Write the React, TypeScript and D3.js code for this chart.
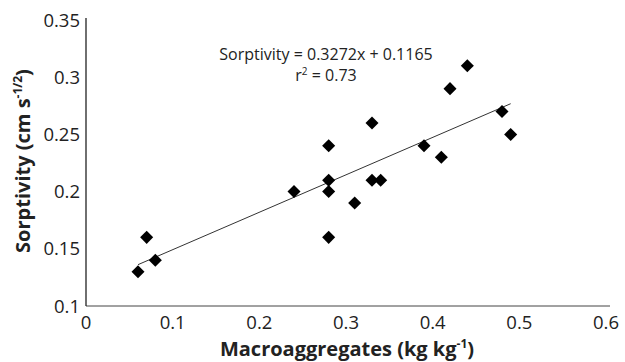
import React, { useRef, useEffect } from 'react';
import * as d3 from 'd3';

// macroaggregates (kg kg-1) and sorptivity (cm s-1/2)
const macroAgg = [0.06, 0.07, 0.08, 0.24, 0.28, 0.28, 0.28, 0.28, 0.31, 0.33, 0.33, 0.34, 0.39, 0.41, 0.42, 0.44, 0.48, 0.49];
const sorptivity = [0.13, 0.16, 0.14, 0.2, 0.24, 0.21, 0.2, 0.16, 0.19, 0.26, 0.21, 0.21, 0.24, 0.23, 0.29, 0.31, 0.27, 0.25];
const xTicks = [0, 0.1, 0.2, 0.3, 0.4, 0.5, 0.6];
const yTicks = [0.1, 0.15, 0.2, 0.25, 0.3, 0.35];
const slope = 0.3272;
const intercept = 0.1165;

const App: React.FC = () => {
  const ref = useRef<SVGSVGElement | null>(null);

  useEffect(() => {
    document.body.style.margin = '0';
    document.body.style.overflow = 'hidden';

    const width = 625;
    const height = 362;
    const svg = d3.select(ref.current);
    svg.selectAll('*').remove();
    svg.attr('width', width).attr('height', height).style('display', 'block').style('background', '#fff');

    const font = '"Open Sans", sans-serif';

    const x = d3.scaleLinear().domain([0, 0.6]).range([86, 606]);
    const y = d3.scaleLinear().domain([0.1, 0.35]).range([306, 20]);

    // axes lines
    svg.append('line')
      .attr('x1', x(0)).attr('x2', 610)
      .attr('y1', y(0.1)).attr('y2', y(0.1))
      .attr('stroke', '#444').attr('stroke-width', 1);
    svg.append('line')
      .attr('x1', x(0)).attr('x2', x(0))
      .attr('y1', y(0.1)).attr('y2', 18)
      .attr('stroke', '#222').attr('stroke-width', 1.3);

    // tick labels
    svg.append('g').selectAll('text')
      .data(xTicks)
      .enter()
      .append('text')
      .attr('x', d => x(d))
      .attr('y', 329)
      .attr('text-anchor', 'middle')
      .style('font-family', font)
      .style('font-size', '18.5px')
      .attr('fill', '#222')
      .text(d => String(d));

    svg.append('g').selectAll('text')
      .data(yTicks)
      .enter()
      .append('text')
      .attr('x', 80)
      .attr('y', d => y(d) + 6.5)
      .attr('text-anchor', 'end')
      .style('font-family', font)
      .style('font-size', '18.5px')
      .attr('fill', '#222')
      .text(d => String(d));

    // trendline
    const xMin = d3.min(macroAgg) as number;
    const xMax = d3.max(macroAgg) as number;
    svg.append('line')
      .attr('x1', x(xMin)).attr('y1', y(slope * xMin + intercept))
      .attr('x2', x(xMax)).attr('y2', y(slope * xMax + intercept))
      .attr('stroke', '#333').attr('stroke-width', 1);

    // points
    const diamond = d3.symbol().type(d3.symbolSquare).size(85);
    svg.append('g').selectAll('path')
      .data(macroAgg.map((m, i) => ({ m, s: sorptivity[i] })))
      .enter()
      .append('path')
      .attr('d', diamond)
      .attr('transform', d => `translate(${x(d.m)},${y(d.s)}) rotate(45)`)
      .attr('fill', '#000');

    // equation
    svg.append('text')
      .attr('x', 326)
      .attr('y', 60)
      .attr('text-anchor', 'middle')
      .style('font-family', font)
      .style('font-size', '16px')
      .attr('fill', '#222')
      .text(`Sorptivity = ${slope}x + ${intercept}`);

    const r2 = svg.append('text')
      .attr('x', 326)
      .attr('y', 81)
      .attr('text-anchor', 'middle')
      .style('font-family', font)
      .style('font-size', '16px')
      .attr('fill', '#222');
    r2.append('tspan').text('r');
    r2.append('tspan').attr('dy', -6).style('font-size', '10px').text('2');
    r2.append('tspan').attr('dy', 6).text(' = 0.73');

    // x axis title
    const xt = svg.append('text')
      .attr('x', 347)
      .attr('y', 356)
      .attr('text-anchor', 'middle')
      .style('font-family', font)
      .style('font-size', '20px')
      .style('font-weight', 'bold')
      .attr('fill', '#222');
    xt.append('tspan').text('Macroaggregates (kg kg');
    xt.append('tspan').attr('dy', -8).style('font-size', '12px').text('-1');
    xt.append('tspan').attr('dy', 8).text(')');

    // y axis title
    const yt = svg.append('text')
      .attr('transform', 'translate(30,161) rotate(-90)')
      .attr('text-anchor', 'middle')
      .style('font-family', font)
      .style('font-size', '20px')
      .style('font-weight', 'bold')
      .attr('fill', '#222');
    yt.append('tspan').text('Sorptivity (cm s');
    yt.append('tspan').attr('dy', -8).style('font-size', '12px').text('-1/2');
    yt.append('tspan').attr('dy', 8).text(')');
  }, []);

  return <svg ref={ref}></svg>;
};

export default App;
